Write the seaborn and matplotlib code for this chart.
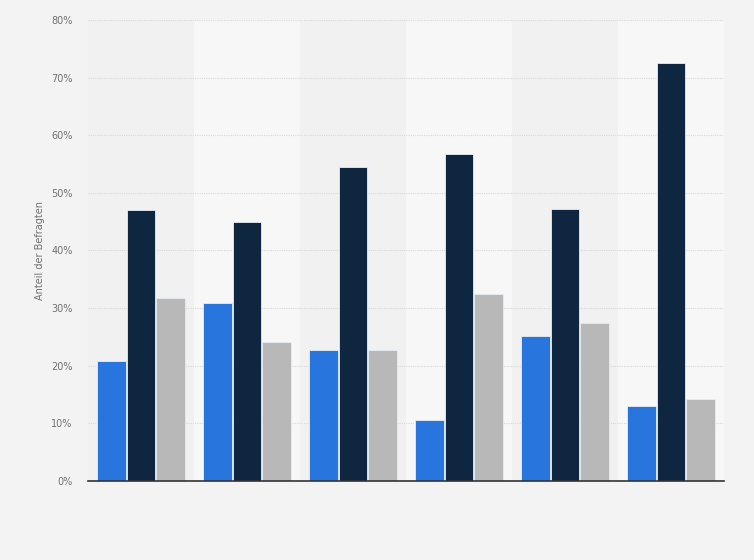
import pandas as pd
import numpy as np
import matplotlib
matplotlib.use("Agg")
import matplotlib.pyplot as plt
import seaborn as sns

# data (no category names shown in the chart)
groups = ["Gruppe 1", "Gruppe 2", "Gruppe 3", "Gruppe 4", "Gruppe 5", "Gruppe 6"]
series = ["Serie 1", "Serie 2", "Serie 3"]
serie_1 = [20.8, 30.9, 22.7, 10.6, 25.2, 13.0]
serie_2 = [47.0, 45.0, 54.5, 56.8, 47.2, 72.6]
serie_3 = [31.8, 24.1, 22.7, 32.5, 27.4, 14.2]
colors = ["#2876dd", "#0f2641", "#b8b8b8"]
y_ticks = [0, 10, 20, 30, 40, 50, 60, 70, 80]

df = pd.DataFrame({
    "Gruppe": groups * 3,
    "Serie": [series[0]] * 6 + [series[1]] * 6 + [series[2]] * 6,
    "Wert": serie_1 + serie_2 + serie_3,
})

sns.set_style("white")
plt.rcParams["font.family"] = ["DejaVu Sans"]

fig = plt.figure(figsize=(7.54, 5.6), dpi=100, facecolor="#f3f3f3")
ax = fig.add_axes([0.1167, 0.1411, 0.8435, 0.8232])
ax.set_facecolor("#f1f1f1")

# alternating column bands
for i in range(len(groups)):
    if i % 2 == 1:
        ax.axvspan(i - 0.5, i + 0.5, color="#f7f7f7", zorder=0, lw=0)

sns.barplot(data=df, x="Gruppe", y="Wert", hue="Serie", palette=colors,
            saturation=1, width=0.84, gap=0.04, edgecolor="#e6edf5",
            linewidth=0.6, legend=False, ax=ax, zorder=3)

ax.set_xlim(-0.5, len(groups) - 0.5)
ax.set_ylim(0, 80)
ax.set_yticks(y_ticks)
ax.set_yticklabels([f"{t}%" for t in y_ticks], fontsize=7, color="#707070")
ax.tick_params(axis="y", length=0, pad=11)
ax.set_xticks([])
ax.set_xlabel("")
ax.set_ylabel("Anteil der Befragten", fontsize=7, color="#707070")
ax.yaxis.set_label_coords(-0.067, 0.5)

for t in y_ticks[1:]:
    ax.axhline(t, color="#d8d8d8", lw=0.8, ls=(0, (1, 1)), zorder=1)

for s in ["top", "right", "left"]:
    ax.spines[s].set_visible(False)
ax.spines["bottom"].set_color("#333333")
ax.spines["bottom"].set_linewidth(1.2)
ax.spines["bottom"].set_zorder(5)

fig.savefig("out.png", dpi=100, facecolor=fig.get_facecolor())
